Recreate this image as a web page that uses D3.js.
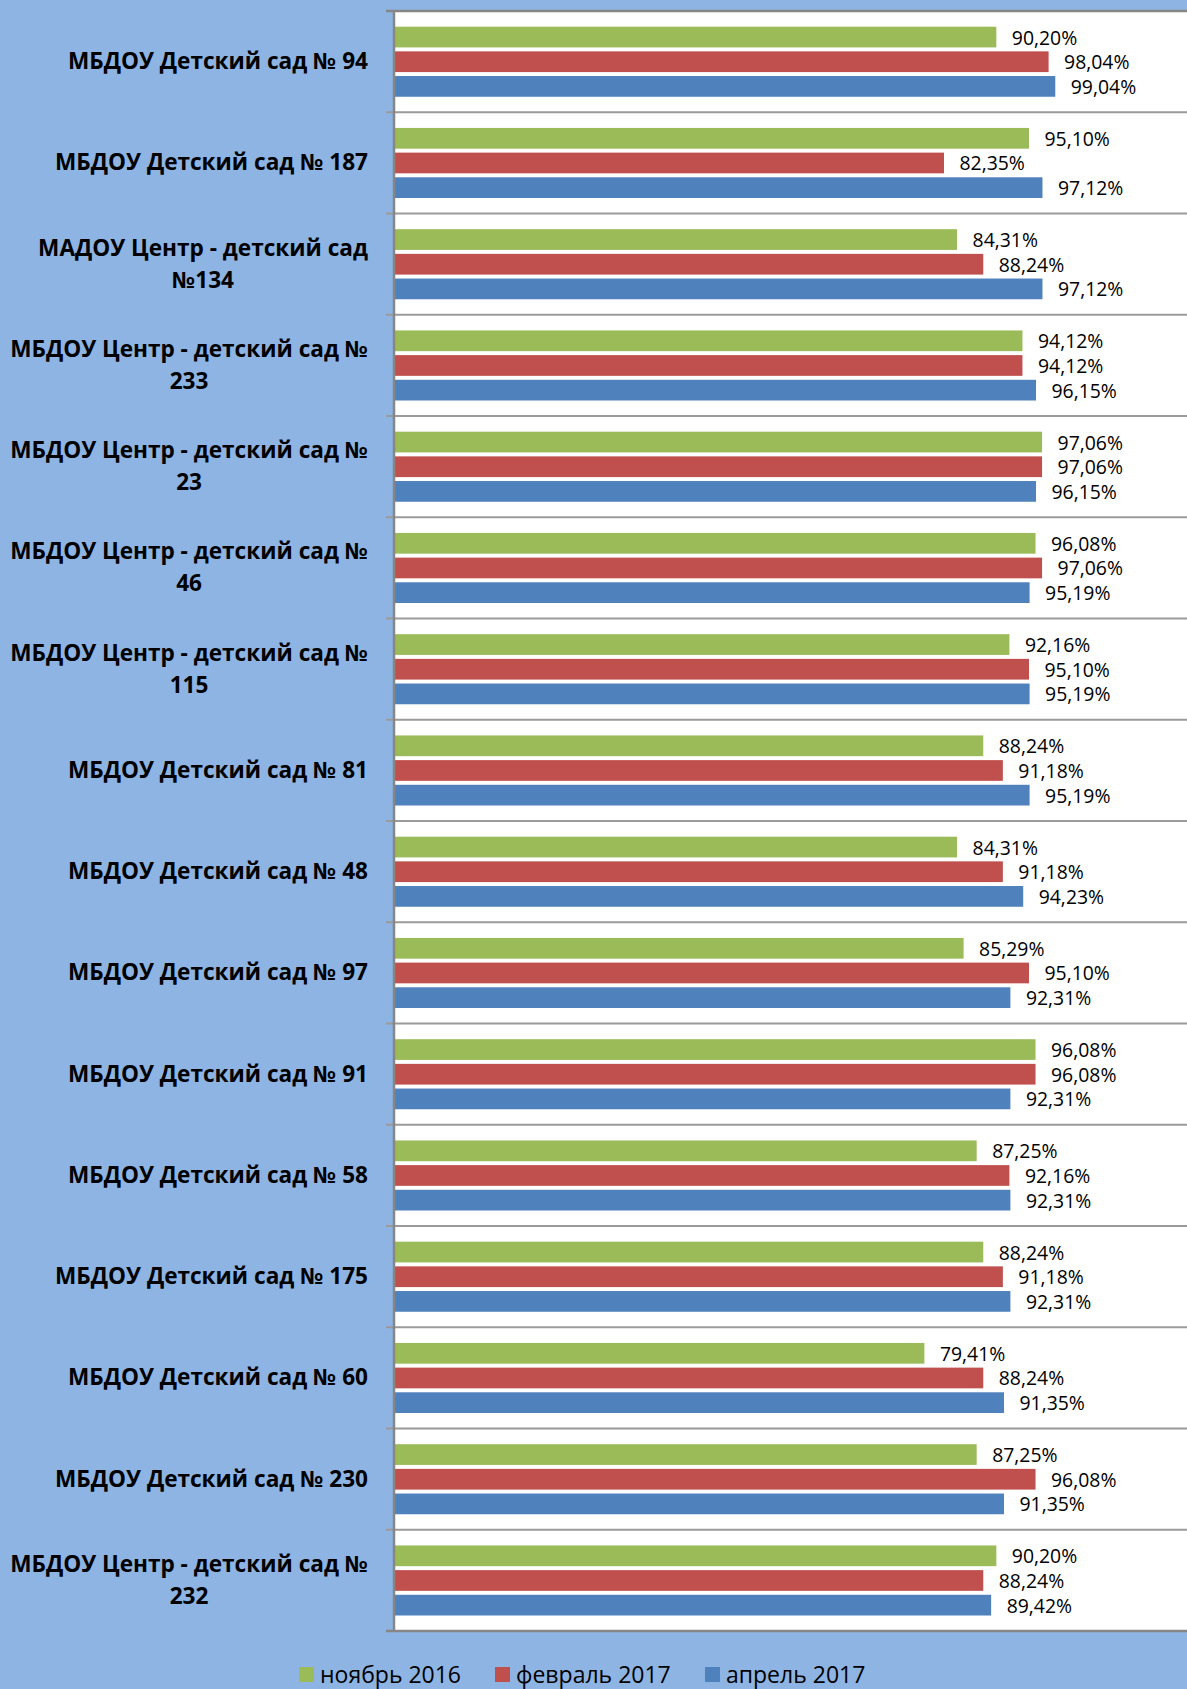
<!DOCTYPE html>
<html>
<head>
<meta charset="utf-8">
<script src="https://cdn.jsdelivr.net/npm/d3@7/dist/d3.min.js"></script>
<style>
  body { margin: 0; background: #8EB4E3; }
  svg { display: block; }
</style>
</head>
<body>
<svg id="chart"></svg>
<script>
// category labels, already wrapped the way the chart wraps them
var categories = [
  ['МБДОУ Детский сад № 94'],
  ['МБДОУ Детский сад № 187'],
  ['МАДОУ Центр - детский сад', '№134'],
  ['МБДОУ Центр - детский сад №', '233'],
  ['МБДОУ Центр - детский сад №', '23'],
  ['МБДОУ Центр - детский сад №', '46'],
  ['МБДОУ Центр - детский сад №', '115'],
  ['МБДОУ Детский сад № 81'],
  ['МБДОУ Детский сад № 48'],
  ['МБДОУ Детский сад № 97'],
  ['МБДОУ Детский сад № 91'],
  ['МБДОУ Детский сад № 58'],
  ['МБДОУ Детский сад № 175'],
  ['МБДОУ Детский сад № 60'],
  ['МБДОУ Детский сад № 230'],
  ['МБДОУ Центр - детский сад №', '232']
];

var seriesNames = ['ноябрь 2016', 'февраль 2017', 'апрель 2017'];

// values in percent
var nov2016 = [90.20, 95.10, 84.31, 94.12, 97.06, 96.08, 92.16, 88.24, 84.31, 85.29, 96.08, 87.25, 88.24, 79.41, 87.25, 90.20];
var feb2017 = [98.04, 82.35, 88.24, 94.12, 97.06, 97.06, 95.10, 91.18, 91.18, 95.10, 96.08, 92.16, 91.18, 88.24, 96.08, 88.24];
var apr2017 = [99.04, 97.12, 97.12, 96.15, 96.15, 95.19, 95.19, 95.19, 94.23, 92.31, 92.31, 92.31, 92.31, 91.35, 91.35, 89.42];

var seriesColors = ['#9BBB59', '#C0504D', '#4F81BD'];

var width = 1187, height = 1689;
var plot = {left: 395, top: 11, bottom: 1631, right: 1195};

var svg = d3.select('#chart').attr('width', width).attr('height', height);

// background
svg.append('rect').attr('width', width).attr('height', height).attr('fill', '#8EB4E3');
svg.append('rect')
  .attr('x', plot.left).attr('y', plot.top)
  .attr('width', plot.right - plot.left).attr('height', plot.bottom - plot.top)
  .attr('fill', '#ffffff');

var rows = categories.map(function(c, i) {
  return {key: i, lines: c, values: [nov2016[i], feb2017[i], apr2017[i]]};
});

var x = d3.scaleLinear().domain([0, 120]).range([plot.left, plot.right]);
var y0 = d3.scaleBand().domain(d3.range(categories.length)).range([plot.top, plot.bottom]);
var bw = y0.bandwidth();
var y1 = d3.scaleBand().domain(d3.range(seriesNames.length))
  .range([bw * 0.155, bw * 0.847]).paddingInner(0.16);

// category separators (gridlines at band edges, with outside ticks)
var edges = d3.range(categories.length + 1).map(function(i) { return plot.top + i * bw; });
svg.append('g').selectAll('line').data(edges).enter().append('line')
  .attr('x1', plot.left - 9).attr('x2', width)
  .attr('y1', function(d) { return d; }).attr('y2', function(d) { return d; })
  .attr('stroke', '#9A9A9A').attr('stroke-width', 2);

// bars
var groups = svg.append('g').selectAll('g').data(rows).enter().append('g')
  .attr('transform', function(d) { return 'translate(0,' + y0(d.key) + ')'; });

var cells = groups.selectAll('g').data(function(d) {
  return d.values.map(function(v, s) { return {s: s, v: v}; });
}).enter();

cells.append('rect')
  .attr('x', x(0))
  .attr('y', function(d) { return y1(d.s); })
  .attr('width', function(d) { return x(d.v) - x(0); })
  .attr('height', y1.bandwidth())
  .attr('fill', function(d) { return seriesColors[d.s]; });

// data labels
cells.append('text')
  .attr('x', function(d) { return x(d.v) + 15.5; })
  .attr('y', function(d) { return y1(d.s) + y1.bandwidth() / 2 + 7.5; })
  .attr('font-family', 'Open Sans')
  .attr('font-size', 19.4)
  .attr('fill', '#000')
  .text(function(d) { return d.v.toFixed(2).replace('.', ',') + '%'; });

// axis line and plot borders
svg.append('line')
  .attr('x1', plot.left - 1).attr('x2', plot.left - 1)
  .attr('y1', plot.top).attr('y2', plot.bottom + 1)
  .attr('stroke', '#868686').attr('stroke-width', 2.5);
svg.append('line')
  .attr('x1', plot.left - 9).attr('x2', width)
  .attr('y1', plot.top).attr('y2', plot.top)
  .attr('stroke', '#868686').attr('stroke-width', 2.5);
svg.append('line')
  .attr('x1', plot.left - 9).attr('x2', width)
  .attr('y1', plot.bottom).attr('y2', plot.bottom)
  .attr('stroke', '#868686').attr('stroke-width', 2.5);

// category labels: block right-aligned at 368, lines centred in the block
var labelRight = 368, lineGap = 32;
var labels = svg.append('g').selectAll('g').data(rows).enter().append('g');
labels.each(function(d) {
  var g = d3.select(this);
  var cy = y0(d.key) + bw / 2;
  var n = d.lines.length;
  var texts = d.lines.map(function(line, j) {
    return g.append('text')
      .attr('y', cy + (j - (n - 1) / 2) * lineGap + 7.5)
      .attr('text-anchor', 'middle')
      .attr('font-family', 'Open Sans')
      .attr('font-weight', 'bold')
      .attr('font-size', 22.6)
      .attr('fill', '#000')
      .text(line);
  });
  var maxW = d3.max(texts, function(t) { return t.node().getComputedTextLength(); });
  texts.forEach(function(t) { t.attr('x', labelRight - maxW / 2); });
});

// legend (kept a couple of px up so descenders stay inside the page)
var legendX = [299, 495, 705];
var legend = svg.append('g').selectAll('g').data(seriesNames).enter().append('g')
  .attr('transform', function(d, i) { return 'translate(' + legendX[i] + ',1667)'; });
legend.append('rect').attr('width', 15).attr('height', 15)
  .attr('fill', function(d, i) { return seriesColors[i]; });
legend.append('text')
  .attr('x', 21).attr('y', 15.5)
  .attr('font-family', 'Open Sans')
  .attr('font-size', 23)
  .attr('fill', '#000')
  .text(function(d) { return d; });
</script>
</body>
</html>
